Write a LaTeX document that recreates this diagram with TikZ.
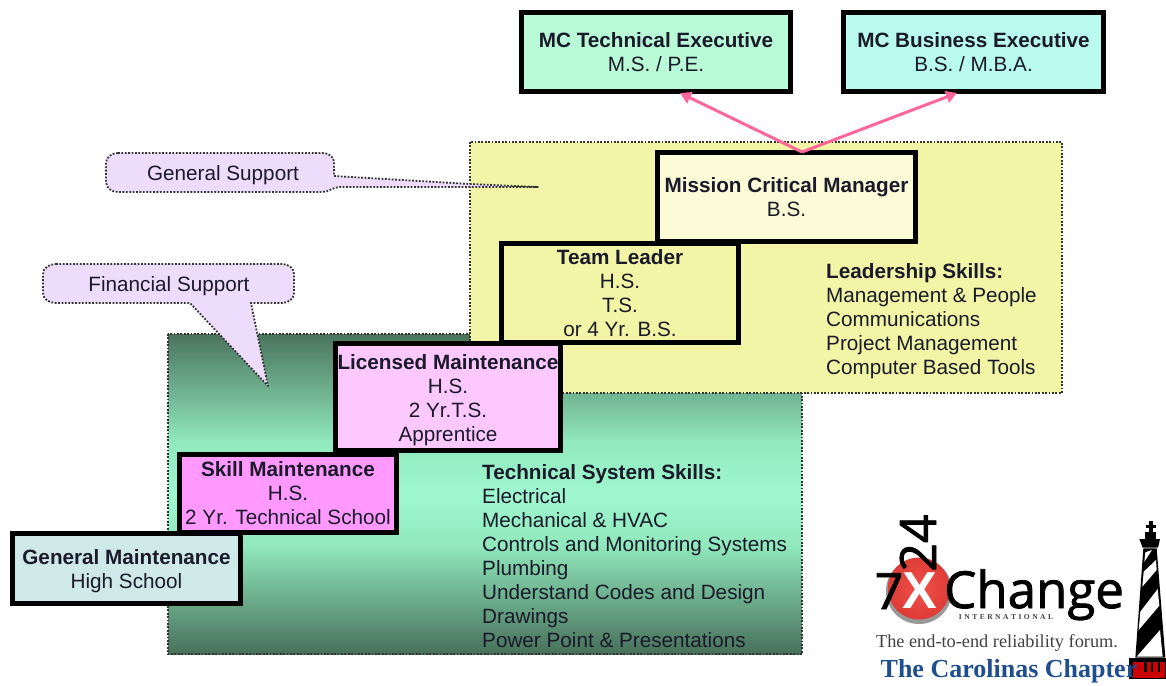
\documentclass[tikz,border=0pt]{standalone}
\usepackage{fontspec}
\setmainfont{Liberation Sans}
\newfontfamily\serifl{Liberation Serif}
\newfontfamily\logof[FakeBold=1.6]{Open Sans}
\usetikzlibrary{arrows.meta,calc}
\definecolor{framey}{HTML}{F2F5A6}
\definecolor{calloutfill}{HTML}{EEDCFC}
\definecolor{pinkarrow}{HTML}{FF6699}
\definecolor{txt}{HTML}{1A1A2A}
\definecolor{gTop}{HTML}{4A745C}
\definecolor{gHi}{HTML}{90E8BC}
\definecolor{gMid}{HTML}{A0F8D0}
\definecolor{gBot}{HTML}{47705A}
\definecolor{fillTech}{HTML}{B9FBD6}
\definecolor{fillBus}{HTML}{B9FBEE}
\definecolor{fillMgr}{HTML}{FBFBD8}
\definecolor{fillLic}{HTML}{FDC8FD}
\definecolor{fillSkill}{HTML}{FF99FF}
\definecolor{fillGen}{HTML}{CFE9E9}
\definecolor{carol}{HTML}{1F4E8F}
\definecolor{ballin}{HTML}{F0504A}
\definecolor{ballout}{HTML}{DE3C36}
\newcommand{\firstlinepad}[1]{\rule{0pt}{#1pt}}
\tikzset{
  x=1pt,y=-1pt,
  every node/.style={font=\fontsize{20.7}{24}\selectfont,text=txt,inner sep=0pt},
  stepbox/.style={draw=black,line width=5pt,align=center,anchor=center},
  panel/.style={draw=black!80,line width=1.8pt,dash pattern=on 1.8pt off 1.6pt},
  callout/.style={draw=black!80,line width=1.8pt,dash pattern=on 1.8pt off 1.6pt,fill=calloutfill,line join=round},
  pinkline/.style={draw=pinkarrow,line width=3pt,-{Triangle[length=11pt,width=12pt]}},
  listtext/.style={align=left,anchor=north west},
}
\begin{document}
\begin{tikzpicture}
\useasboundingbox (0,0) rectangle (1166,685);
% panels
\shade[top color=gTop,bottom color=gHi] (168,334) rectangle (802,441);
\shade[top color=gHi,bottom color=gMid] (168,440) rectangle (802,495);
\shade[top color=gMid,bottom color=gHi] (168,494) rectangle (802,546);
\shade[top color=gHi,bottom color=gBot] (168,545) rectangle (802,654);
\draw[panel] (168,334) rectangle (802,654);
\draw[panel,fill=framey] (470,142) rectangle (1062,393);
% callouts
\draw[callout] (118,153) -- (322,153) to[out=0,in=90] (334,162) -- (334,176) -- (470,184) -- (538,187) -- (340,187)
  to[out=180,in=0] (322,192) -- (118,192) to[out=180,in=-90] (106,182) -- (106,163) to[out=90,in=180] (118,153) -- cycle;
\node (gensup) at (223,175) {General Support};
\draw[callout] (56,264) -- (282,264) to[out=0,in=90] (294,274) -- (294,293) to[out=-90,in=0] (282,303) -- (251,303)
  -- (268,386) -- (190,303) -- (56,303) to[out=180,in=-90] (43,293) -- (43,274) to[out=90,in=180] (56,264) -- cycle;
\node (finsup) at (169,286) {Financial Support};
% step boxes
\node[stepbox,fill=fillTech,minimum width=269pt,minimum height=79pt] (tech) at (656,52) {\textbf{MC Technical Executive}\\M.S. / P.E.};
\node[stepbox,fill=fillBus,minimum width=260pt,minimum height=79pt] (bus) at (973.5,52) {\textbf{MC Business Executive}\\B.S. / M.B.A.};
\node[stepbox,fill=fillMgr,minimum width=258pt,minimum height=89pt] (mgr) at (786.5,197) {\textbf{Mission Critical Manager}\\B.S.};
\node[stepbox,fill=framey,minimum width=237pt,minimum height=99pt] (lead) at (620,293) {\textbf{Team Leader}\\H.S.\\T.S.\\or 4 Yr. B.S.};
\node[stepbox,fill=fillLic,minimum width=225pt,minimum height=107pt] (lic) at (448,397) {\firstlinepad{22}\textbf{Licensed Maintenance}\\H.S.\\2 Yr.T.S.\\Apprentice};
\node[stepbox,fill=fillSkill,minimum width=217pt,minimum height=78pt] (skill) at (288,493.5) {\textbf{Skill Maintenance}\\H.S.\\2 Yr. Technical School};
\node[stepbox,fill=fillGen,minimum width=228pt,minimum height=70pt] (gen) at (126.5,568.5) {\firstlinepad{20}\textbf{General Maintenance}\\High School};
% arrows
\coordinate (apex) at ($(mgr.north)+(15.5,2)$);
\coordinate (techend) at (680,93);
\coordinate (busend) at (957,93);
\draw[pinkline] (apex) -- (techend);
\draw[pinkline] (apex) -- (busend);
% lists
\node[listtext] (lead skills) at (826,263) {\textbf{Leadership Skills:}\\Management \& People\\Communications\\Project Management\\Computer Based Tools};
\node[listtext] (tech skills) at (482,464) {\textbf{Technical System Skills:}\\Electrical\\Mechanical \& HVAC\\Controls and Monitoring Systems\\Plumbing\\Understand Codes and Design\\Drawings\\Power Point \& Presentations};
% logo
\fill[black!40] (919,591) circle (33);
\shade[inner color=ballin,outer color=ballout] (919,588.5) circle (31);
\node[font=\fontsize{52}{52}\selectfont,text=white] (lx) at (920,591) {\textbf{X}};
\node[font=\logof\fontsize{50}{50}\selectfont,text=black,anchor=base] (l7) at (889,609) {7};
\node[font=\logof\fontsize{50}{50}\selectfont,text=black,anchor=base,rotate=90] (l24) at (936,543) {24};
\node[font=\logof\fontsize{51}{51}\selectfont,text=black,anchor=base west] (lchange) at (944,608) {Change};
\node[font=\serifl\bfseries\fontsize{7.5}{8}\selectfont,text=black!75] (lint) at (1006,617) {I\,\,N\,\,T\,\,E\,\,R\,\,N\,\,A\,\,T\,\,I\,\,O\,\,N\,\,A\,\,L};
\node[font=\serifl\fontsize{18.3}{18}\selectfont,text=black!75] (lforum) at (997,643) {The end-to-end reliability forum.};
% lighthouse, in coordinates of a 3x crop
\begin{scope}[shift={(1116,515)},x=0.3333pt,y=-0.3333pt]
\fill[black] (82,100) -- (122,100) -- (148,428) -- (58,428) -- cycle;
\fill[white] (85,140) -- (88,112) -- (108,105) -- cycle;
\fill[white] (79,215) -- (83,170) -- (120,135) -- (122,165) -- cycle;
\fill[white] (68,345) -- (73,290) -- (125,222) -- (130,272) -- cycle;
\fill[white] (62,425) -- (132,345) -- (140,425) -- cycle;
\fill[black] (70,72) -- (132,72) -- (126,98) -- (80,98) -- cycle;
\fill[black] (88,50) rectangle (120,74);
\fill[black] (98,18) rectangle (112,52);
\fill[black] (90,30) rectangle (120,40);
\fill[black] (38,428) rectangle (150,492);
\fill[red!80!black] (50,440) rectangle (146,490);
\foreach \xx in {85,105,125}
  \fill[black] (\xx,440) rectangle (\xx+7,470);
\end{scope}
\node[font=\serifl\bfseries\fontsize{26}{26}\selectfont,text=carol] (lcar) at (1009,671) {The Carolinas Chapter};
\end{tikzpicture}
\end{document}
